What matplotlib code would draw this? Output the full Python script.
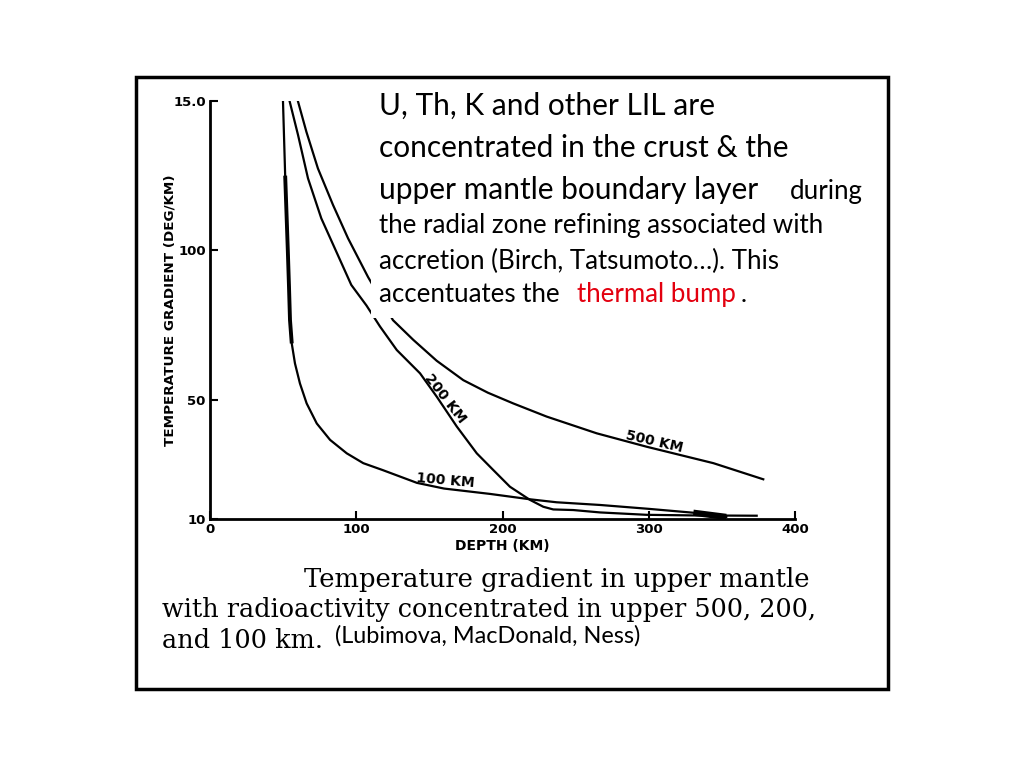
import matplotlib
matplotlib.use("Agg")
import matplotlib.pyplot as plt
from matplotlib.patches import Rectangle

# curves (depth km, gradient deg/km)
depth_100 = [49.9, 51.4, 53.2, 54.0, 54.7, 55.9, 58.1, 61.5, 66.1, 73, 82.1, 93.5, 104.8, 118,
             141.5, 160, 191.5, 218.8, 237, 266.7, 300, 330.5, 353]
grad_100 = [150, 125, 100, 88, 76.6, 68.8, 62.1, 55.4, 48.7, 42, 36.5, 32, 28.7, 26.4,
            22.1, 20.2, 18.4, 16.6, 15.6, 14.7, 13.4, 12.1, 10.7]

depth_200 = [54.5, 60.2, 67, 76.1, 86.4, 96.6, 107, 116.2, 127.7, 143.6, 155, 168.7, 182.4,
             193.7, 205.1, 218.8, 227.9, 234.7, 248.4, 266.7, 298.6, 330, 373.8]
grad_200 = [149.8, 138.6, 124.1, 110.7, 99.5, 88.4, 81.5, 74.5, 66.6, 58.8, 51, 41, 32,
            26.4, 20.8, 16.4, 14.1, 13.2, 13, 12.2, 11.4, 11.2, 11.1]

depth_500 = [60.2, 65.9, 73.8, 84.1, 94.4, 108, 125.1, 139, 155, 173.2, 190, 207.4, 230.2,
             264.4, 298.6, 344.2, 378.3]
grad_500 = [149.8, 139.7, 127.4, 115.2, 104, 91.1, 76.6, 70, 63, 56.5, 52.3, 48.7, 44.3,
            38.7, 34.2, 28.7, 23.3]

xticks = [0, 100, 200, 300, 400]
yticks = [10, 50, 100, 150]
ytick_labels = ["10", "50", "100", "15.0"]

W, H = 1024, 768
fig = plt.figure(figsize=(W / 100, H / 100), dpi=100)

def fx(px):
    return px / W

def fy(py):
    return 1 - py / H

ax = fig.add_axes([fx(210), fy(519), fx(795) - fx(210), fy(101) - fy(519)])
ax.plot(depth_100, grad_100, color="black", lw=1.6)
# heavier ink on the steep part and the tail of the 100 km curve
ax.plot(depth_100[1:6], grad_100[1:6], color="black", lw=2.8, solid_capstyle="butt")
ax.plot(depth_100[-2:], grad_100[-2:], color="black", lw=4.5, solid_capstyle="butt")
ax.plot(depth_200, grad_200, color="black", lw=1.6)
ax.plot(depth_500, grad_500, color="black", lw=1.6)

ax.set_xlim(0, 400)
ax.set_ylim(10, 150)
ax.spines["top"].set_visible(False)
ax.spines["right"].set_visible(False)
ax.spines["left"].set_linewidth(2)
ax.spines["bottom"].set_linewidth(2)
ax.set_xticks(xticks)
ax.set_yticks(yticks)
ax.set_yticklabels(ytick_labels)
ax.tick_params(direction="in", length=6, width=1.5, labelsize=9.5, pad=3)
for lab in ax.get_xticklabels() + ax.get_yticklabels():
    lab.set_fontweight("bold")
ax.set_xlabel("DEPTH (KM)", fontsize=10, fontweight="bold", labelpad=2)
ax.set_ylabel("TEMPERATURE GRADIENT (DEG/KM)", fontsize=9.7, fontweight="bold")
ax.yaxis.set_label_coords(-0.057, 0.5)

ax.text(161, 50.5, "200 KM", rotation=-52, fontsize=10, fontweight="bold", ha="center", va="center")
ax.text(304, 36, "500 KM", rotation=-13, fontsize=10, fontweight="bold", ha="center", va="center")
ax.text(161, 22.8, "100 KM", rotation=-5, fontsize=10, fontweight="bold", ha="center", va="center")

# slide frame
fig.patches.append(Rectangle((fx(136), fy(689)), fx(888) - fx(136), fy(77) - fy(689),
                             transform=fig.transFigure, fill=False, ec="black", lw=2.5, zorder=5))
# white text box over the curves
fig.patches.append(Rectangle((fx(371), fy(318)), fx(875) - fx(371), fy(86) - fy(318),
                             transform=fig.transFigure, fc="white", ec="none", zorder=2))

sans = ["Lato", "DejaVu Sans"]
big = 21.5
small = 18.6
fig.text(fx(379), fy(106), "U, Th, K and other LIL are", fontsize=big, family=sans, va="center")
fig.text(fx(379), fy(148), "concentrated in the crust & the", fontsize=big, family=sans, va="center")
fig.text(fx(379), fy(190), "upper mantle boundary layer", fontsize=big, family=sans, va="center")
fig.text(fx(790), fy(192), "during", fontsize=small, family=sans, va="center")
fig.text(fx(379), fy(226), "the radial zone refining associated with", fontsize=small, family=sans, va="center")
fig.text(fx(379), fy(261), "accretion (Birch, Tatsumoto\u2026). This", fontsize=small, family=sans, va="center")
fig.text(fx(379), fy(295), "accentuates the ", fontsize=small, family=sans, va="center")
fig.text(fx(577), fy(295), "thermal bump", fontsize=small, family=sans, va="center", color="#e3000f")
fig.text(fx(741), fy(295), ".", fontsize=small, family=sans, va="center")

serif = "DejaVu Serif"
fig.text(fx(810), fy(580), "Temperature gradient in upper mantle", fontsize=18.6, family=serif,
         ha="right", va="center")
fig.text(fx(162), fy(610), "with radioactivity concentrated in upper 500, 200,", fontsize=18.4,
         family=serif, va="center")
fig.text(fx(162), fy(640), "and 100 km.", fontsize=18.4, family=serif, va="center")
fig.text(fx(335), fy(636), "(Lubimova, MacDonald, Ness)", fontsize=16.9, family=sans, va="center")

fig.savefig("out.png", dpi=100)
